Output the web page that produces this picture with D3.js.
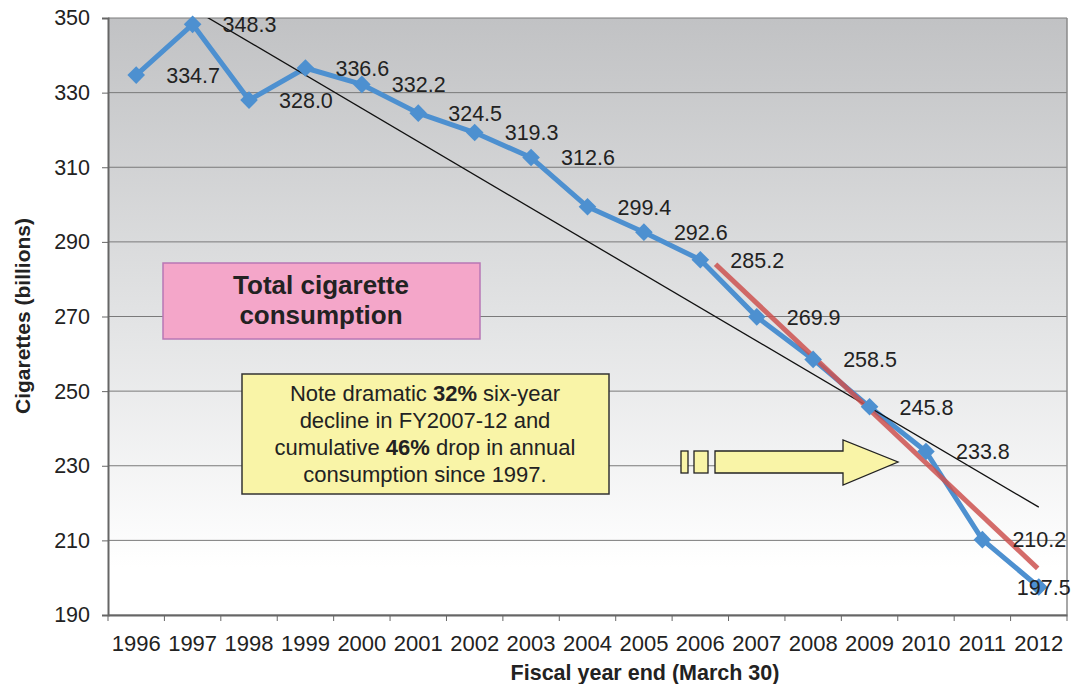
<!DOCTYPE html>
<html>
<head>
<meta charset="utf-8">
<script src="https://d3js.org/d3.v7.min.js"></script>
<style>
  body { margin: 0; background: #fff; }
  text { font-family: "Liberation Sans", Arial, sans-serif; fill: #222; }
</style>
</head>
<body>
<svg width="1073" height="684"></svg>
<script>
// chart data
var years = ["1996","1997","1998","1999","2000","2001","2002","2003","2004","2005","2006","2007","2008","2009","2010","2011","2012"];
var consumption = [334.7, 348.3, 328.0, 336.6, 332.2, 324.5, 319.3, 312.6, 299.4, 292.6, 285.2, 269.9, 258.5, 245.8, 233.8, 210.2, 197.5];
var yTicks = [190, 210, 230, 250, 270, 290, 310, 330, 350];
// long-run trend (black) and FY2007-12 trend (red), as [year index, value]
var trendAll = [[0, 361.4], [16, 218.9]];
var trendRecent = [[10.27, 284.0], [15.98, 202.5]];

var svg = d3.select("svg"),
    margin = {top: 18, right: 6, bottom: 69, left: 108},
    width = 1073 - margin.left - margin.right,
    height = 684 - margin.top - margin.bottom,
    g = svg.append("g").attr("transform", "translate(" + margin.left + "," + margin.top + ")");

var x = d3.scaleBand().domain(years).range([0, width]).padding(0);
var y = d3.scaleLinear().domain([190, 350]).range([height, 0]);
var xi = function(i) { return x(years[0]) + x.bandwidth() * (i + 0.5); };

// plot background gradient
var defs = svg.append("defs");
var grad = defs.append("linearGradient").attr("id", "bg").attr("x1", 0).attr("y1", 0).attr("x2", 0).attr("y2", 1);
grad.append("stop").attr("offset", "0%").attr("stop-color", "#c1c2c4");
grad.append("stop").attr("offset", "50%").attr("stop-color", "#e2e3e4");
grad.append("stop").attr("offset", "92%").attr("stop-color", "#ffffff");
defs.append("clipPath").attr("id", "clip").append("rect").attr("width", width).attr("height", height);

g.append("rect").attr("width", width).attr("height", height).attr("fill", "url(#bg)");

// gridlines
g.selectAll(".grid").data(yTicks).enter().append("line")
  .attr("x1", 0).attr("x2", width)
  .attr("y1", function(d) { return y(d); }).attr("y2", function(d) { return y(d); })
  .attr("stroke", "#7a7a7a").attr("stroke-width", 1);

// right border
g.append("line").attr("x1", width).attr("x2", width).attr("y1", 0).attr("y2", height)
  .attr("stroke", "#8a8a8a").attr("stroke-width", 1.5);

// y axis
var yAxis = g.append("g").call(d3.axisLeft(y).tickValues(yTicks).tickSize(6).tickPadding(12));
yAxis.select(".domain").attr("stroke", "#666").attr("stroke-width", 2);
yAxis.selectAll(".tick line").attr("stroke", "#666");
yAxis.selectAll("text").style("font-size", "21.5px").style("fill", "#222");

// x axis: labels centred in bands, ticks at band edges
var xAxis = g.append("g").attr("transform", "translate(0," + height + ")")
  .call(d3.axisBottom(x).tickSize(0).tickPadding(20));
xAxis.select(".domain").attr("stroke", "#666").attr("stroke-width", 2);
xAxis.selectAll("text").style("font-size", "22px").style("fill", "#222");
xAxis.selectAll(".edge").data(d3.range(years.length + 1)).enter().append("line")
  .attr("x1", function(i) { return x.bandwidth() * i; })
  .attr("x2", function(i) { return x.bandwidth() * i; })
  .attr("y1", 0).attr("y2", 6).attr("stroke", "#666");

// axis titles
svg.append("text").attr("transform", "translate(30,316) rotate(-90)")
  .attr("text-anchor", "middle").style("font-size", "21px").style("font-weight", "bold")
  .text("Cigarettes (billions)");
svg.append("text").attr("x", 645).attr("y", 680)
  .attr("text-anchor", "middle").style("font-size", "21.5px").style("font-weight", "bold")
  .text("Fiscal year end (March 30)");

var lineFn = d3.line().x(function(d) { return xi(d[0]); }).y(function(d) { return y(d[1]); });
var series = consumption.map(function(v, i) { return [i, v]; });

// blue series line
g.append("path").datum(series).attr("fill", "none").attr("stroke", "#4d90d0")
  .attr("stroke-width", 5).attr("stroke-linejoin", "round").attr("d", lineFn);

// trend lines
g.append("path").datum(trendAll).attr("clip-path", "url(#clip)").attr("fill", "none")
  .attr("stroke", "#111").attr("stroke-width", 1.3).attr("d", lineFn);
g.append("path").datum(trendRecent).attr("fill", "none")
  .attr("stroke", "#cd5250").attr("stroke-opacity", 0.85).attr("stroke-width", 5).attr("d", lineFn);

// markers
g.selectAll(".pt").data(series).enter().append("path")
  .attr("transform", function(d) { return "translate(" + xi(d[0]) + "," + y(d[1]) + ") rotate(45)"; })
  .attr("d", d3.symbol().type(d3.symbolSquare).size(155))
  .attr("fill", "#4d90d0");

// value labels
g.selectAll(".lbl").data(series).enter().append("text")
  .attr("x", function(d, i) { return i === years.length - 1 ? xi(d[0]) - 22 : xi(d[0]) + 30; })
  .attr("y", function(d) { return y(d[1]); })
  .attr("dy", "0.36em").style("font-size", "21.5px").style("fill", "#222")
  .text(function(d) { return d[1].toFixed(1); });

// title box
var tb = svg.append("g").attr("transform", "translate(163,263)");
tb.append("rect").attr("width", 317).attr("height", 76).attr("fill", "#f4a6c9").attr("stroke", "#b877b5").attr("stroke-width", 1.5);
tb.append("text").attr("x", 158).attr("y", 31).attr("text-anchor", "middle")
  .style("font-size", "26px").style("font-weight", "bold").text("Total cigarette");
tb.append("text").attr("x", 158).attr("y", 61).attr("text-anchor", "middle")
  .style("font-size", "26px").style("font-weight", "bold").text("consumption");

// note box
var nb = svg.append("g").attr("transform", "translate(242,374)");
nb.append("rect").attr("width", 367).attr("height", 120).attr("fill", "#f9f4a7").attr("stroke", "#333").attr("stroke-width", 1.5);
var noteLines = [
  [["Note dramatic ", false], ["32%", true], [" six-year", false]],
  [["decline in FY2007-12 and", false]],
  [["cumulative ", false], ["46%", true], [" drop in annual", false]],
  [["consumption since 1997.", false]]
];
noteLines.forEach(function(parts, li) {
  var t = nb.append("text").attr("x", 183).attr("y", 27 + li * 27).attr("text-anchor", "middle").style("font-size", "22px");
  parts.forEach(function(p) {
    t.append("tspan").style("font-weight", p[1] ? "bold" : "normal").text(p[0]);
  });
});

// arrow
var ar = svg.append("g").attr("fill", "#f9f4a7").attr("stroke", "#222").attr("stroke-width", 1.3);
ar.append("rect").attr("x", 681).attr("y", 451).attr("width", 7).attr("height", 22);
ar.append("rect").attr("x", 694).attr("y", 451).attr("width", 14).attr("height", 22);
ar.append("path").attr("d", "M715,451 L843,451 L843,440 L898,462 L843,485 L843,473 L715,473 Z");
</script>
</body>
</html>
